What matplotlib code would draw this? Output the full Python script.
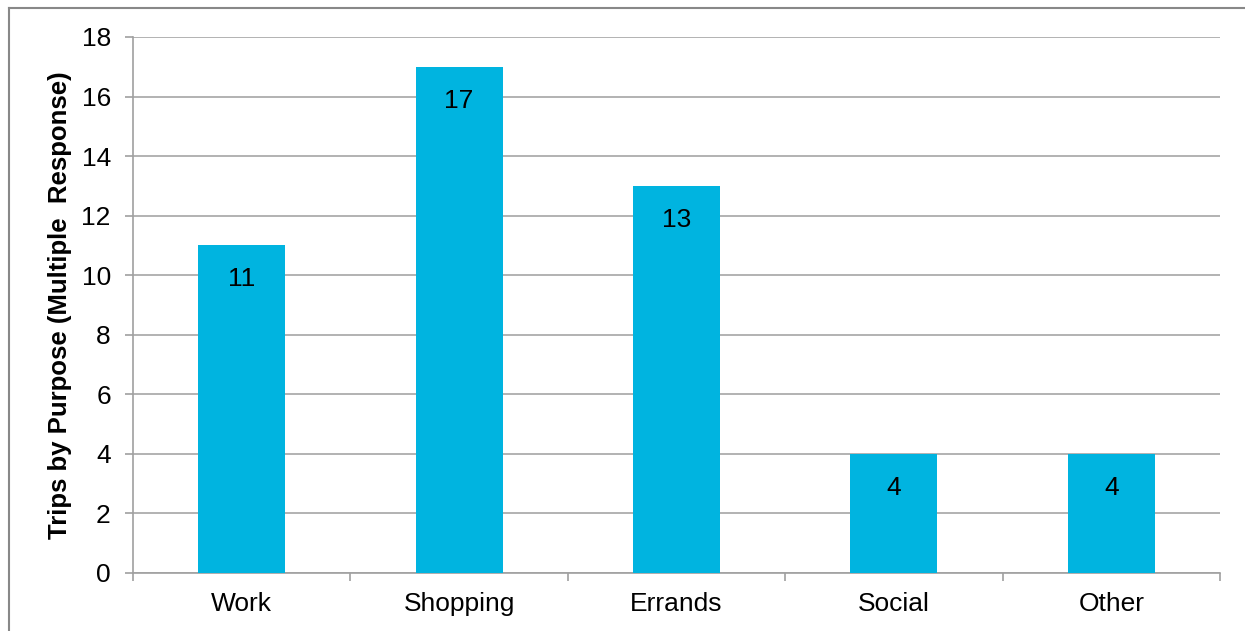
import matplotlib.pyplot as plt
from matplotlib.lines import Line2D
import numpy as np

categories = ['Work', 'Shopping', 'Errands', 'Social', 'Other']
trips = [11, 17, 13, 4, 4]
yticks = [0, 2, 4, 6, 8, 10, 12, 14, 16, 18]

plt.rcParams['font.family'] = ['Liberation Sans', 'DejaVu Sans']

fig = plt.figure(figsize=(12.45, 6.31), dpi=100)
ax = fig.add_axes([133 / 1245, 1 - 573 / 631, (1220 - 133) / 1245, (573 - 37) / 631])

gray = '#A0A0A0'
x = np.arange(len(categories))
bars = ax.bar(x, trips, width=0.4, color='#00B4E0', zorder=3)

# value labels inside the bar tops
for xi, v in zip(x, trips):
    ax.annotate(str(v), (xi, v), xytext=(0, -34), textcoords='offset pixels',
                ha='center', va='center', fontsize=19, color='black', zorder=4)

ax.set_xlim(-0.5, len(categories) - 0.5)
ax.set_ylim(0, 18)
ax.set_yticks(yticks)
ax.set_xticks(x)
ax.set_xticklabels(categories)
ax.set_xticks(np.arange(-0.5, len(categories)), minor=True)
ax.tick_params(axis='x', which='major', length=0, pad=14, labelsize=19)
ax.tick_params(axis='x', which='minor', length=6, color=gray, width=1.2)
ax.tick_params(axis='y', length=6, color=gray, width=1.2, pad=10, labelsize=19)

ax.yaxis.grid(True, color='#A6A6A6', linewidth=1.2, zorder=0)
ax.set_axisbelow(True)
for side in ['top', 'right']:
    ax.spines[side].set_visible(False)
for side in ['left', 'bottom']:
    ax.spines[side].set_color(gray)
    ax.spines[side].set_linewidth(1.2)

ax.set_ylabel('Trips by Purpose (Multiple  Response)', fontsize=18.5, fontweight='bold', labelpad=7)

# outer frame (only top and left edges visible in the crop)
fig.add_artist(Line2D([9 / 1245, 1], [1 - 8 / 631, 1 - 8 / 631], color='#888888', lw=1.5,
                      transform=fig.transFigure))
fig.add_artist(Line2D([9 / 1245, 9 / 1245], [0, 1 - 8 / 631], color='#888888', lw=1.5,
                      transform=fig.transFigure))

fig.savefig('out.png', dpi=100)
